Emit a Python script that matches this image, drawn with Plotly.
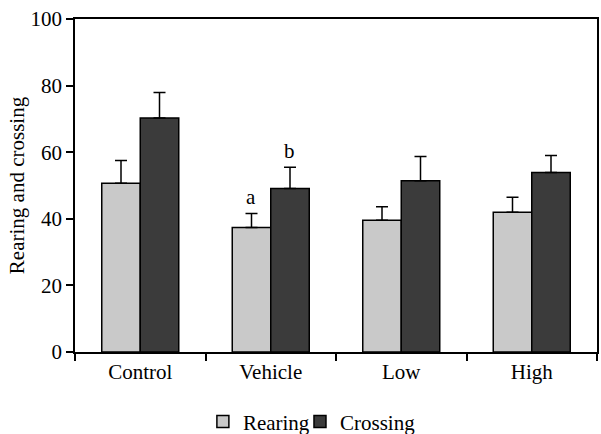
import plotly.graph_objects as go

categories = ["Control", "Vehicle", "Low", "High"]
rearing = [50.7, 37.4, 39.6, 42.0]
rearing_err = [6.8, 4.2, 4.0, 4.5]
crossing = [70.3, 49.1, 51.4, 53.9]
crossing_err = [7.6, 6.4, 7.3, 5.1]
y_ticks = [0, 20, 40, 60, 80, 100]

FONT = "Liberation Serif"
FS = 21

fig = go.Figure()
fig.add_trace(go.Bar(
    name="Rearing", x=categories, y=rearing, legend="legend",
    marker=dict(color="#c9c9c9", line=dict(color="black", width=1.5)),
    error_y=dict(type="data", symmetric=False, array=rearing_err,
                 arrayminus=[0] * len(rearing_err),
                 color="black", thickness=1.5, width=6),
))
fig.add_trace(go.Bar(
    name="Crossing", x=categories, y=crossing, legend="legend2",
    marker=dict(color="#3b3b3b", line=dict(color="black", width=1.5)),
    error_y=dict(type="data", symmetric=False, array=crossing_err,
                 arrayminus=[0] * len(crossing_err),
                 color="black", thickness=1.5, width=6),
))

fig.add_annotation(x="Vehicle", y=rearing[1] + rearing_err[1], text="a",
                   xshift=-20, yshift=2, yanchor="bottom", showarrow=False,
                   font=dict(family=FONT, size=FS, color="black"))
fig.add_annotation(x="Vehicle", y=crossing[1] + crossing_err[1], text="b",
                   xshift=19, yshift=2, yanchor="bottom", showarrow=False,
                   font=dict(family=FONT, size=FS, color="black"))

legend_common = dict(orientation="h", y=-0.148, xanchor="left", yanchor="top",
                     font=dict(family=FONT, size=FS), itemwidth=30,
                     bgcolor="rgba(0,0,0,0)")

fig.update_layout(
    width=601, height=434,
    margin=dict(l=75, r=4, t=19, b=82, autoexpand=False),
    paper_bgcolor="white", plot_bgcolor="white",
    font=dict(family=FONT, size=FS, color="black"),
    barmode="group", bargap=0.41, bargroupgap=0,
    showlegend=True,
    legend=dict(x=0.245, **legend_common),
    legend2=dict(x=0.431, **legend_common),
    xaxis=dict(type="category", showline=True, linecolor="black", linewidth=1.5,
               mirror=True, ticks="outside", ticklen=7, tickwidth=1.5,
               tickcolor="black", tickson="boundaries", showgrid=False,
               tickfont=dict(family=FONT, size=FS)),
    yaxis=dict(range=[0, 100], tickvals=y_ticks, showline=True, linecolor="black",
               linewidth=1.5, mirror=True, ticks="outside", ticklen=7,
               tickwidth=1.5, tickcolor="black", showgrid=False, zeroline=False,
               tickfont=dict(family=FONT, size=FS),
               title=dict(text="Rearing and crossing",
                          font=dict(family=FONT, size=FS), standoff=0)),
)

fig.write_html("out.html")
